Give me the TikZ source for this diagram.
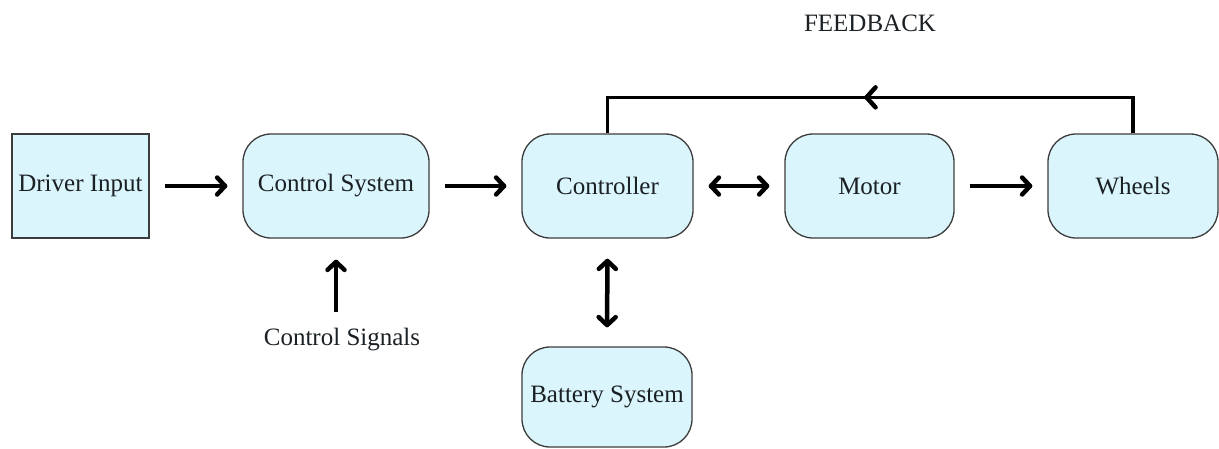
\documentclass[tikz,border=0pt]{standalone}
\usepackage{fontspec}
\setmainfont{Liberation Serif}
\usetikzlibrary{arrows.meta,decorations.markings}

\definecolor{boxfill}{HTML}{DAF5FB}
\definecolor{boxline}{HTML}{3C3C3C}
\definecolor{ink}{HTML}{1A2024}

\begin{document}
\begin{tikzpicture}[x=1pt, y=-1pt,
    block/.style={draw=boxline, fill=boxfill, line width=1.3pt, text=ink,
        minimum width=#1, minimum height=104pt, inner sep=0pt,
        font=\fontsize{25}{30}\selectfont},
    roundblock/.style={block=#1, rounded corners=28pt},
    plaintext/.style={text=ink, inner sep=0pt, font=\fontsize{25}{30}\selectfont},
    flow/.style={line width=4.5pt, -{Straight Barb[length=8pt,width=17pt,round]},
        shorten <=15pt, shorten >=15pt},
    twoway/.style={flow, {Straight Barb[length=8pt,width=17pt,round]}-{Straight Barb[length=8pt,width=17pt,round]}},
    fbline/.style={line width=3.2pt, postaction={decorate},
        decoration={markings, mark=at position 0.51 with {\arrow[line width=4.5pt]{Straight Barb[length=9pt,width=20pt,round]}}}}
]
    \useasboundingbox (0,0) rectangle (1219,448);

    % Blocks
    \node[block=137pt]      (driver)     at (80.5,186) {Driver Input};
    \node[roundblock=186pt] (ctrlsys)    at (336,186)  {Control System};
    \node[roundblock=171pt] (controller) at (607.5,186) {Controller};
    \node[roundblock=169pt] (motor)      at (869.5,186) {Motor};
    \node[roundblock=170pt] (wheels)     at (1133,186) {Wheels};
    \node[roundblock=170pt, minimum height=100pt] (battery) at (607,397) {Battery System};

    % Labels
    \node[plaintext] (signals) at (342,340) {Control Signals};
    \node[plaintext] (fbtext)  at (870,23)  {FEEDBACK};

    % Signal flow
    \draw[flow] (driver) -- (ctrlsys);
    \draw[flow] (ctrlsys) -- (controller);
    \draw[twoway] (controller) -- (motor);
    \draw[flow] (motor) -- (wheels);
    \draw[flow, shorten <=16pt, shorten >=21pt] (ctrlsys.south |- signals.north) -- (ctrlsys.south);
    \draw[twoway, shorten <=20pt, shorten >=19pt] (controller.south) -- (battery.north);

    % Feedback loop
    \draw[fbline] (wheels.north) -- ++(0,-36) -| (controller.north);

\end{tikzpicture}
\end{document}
